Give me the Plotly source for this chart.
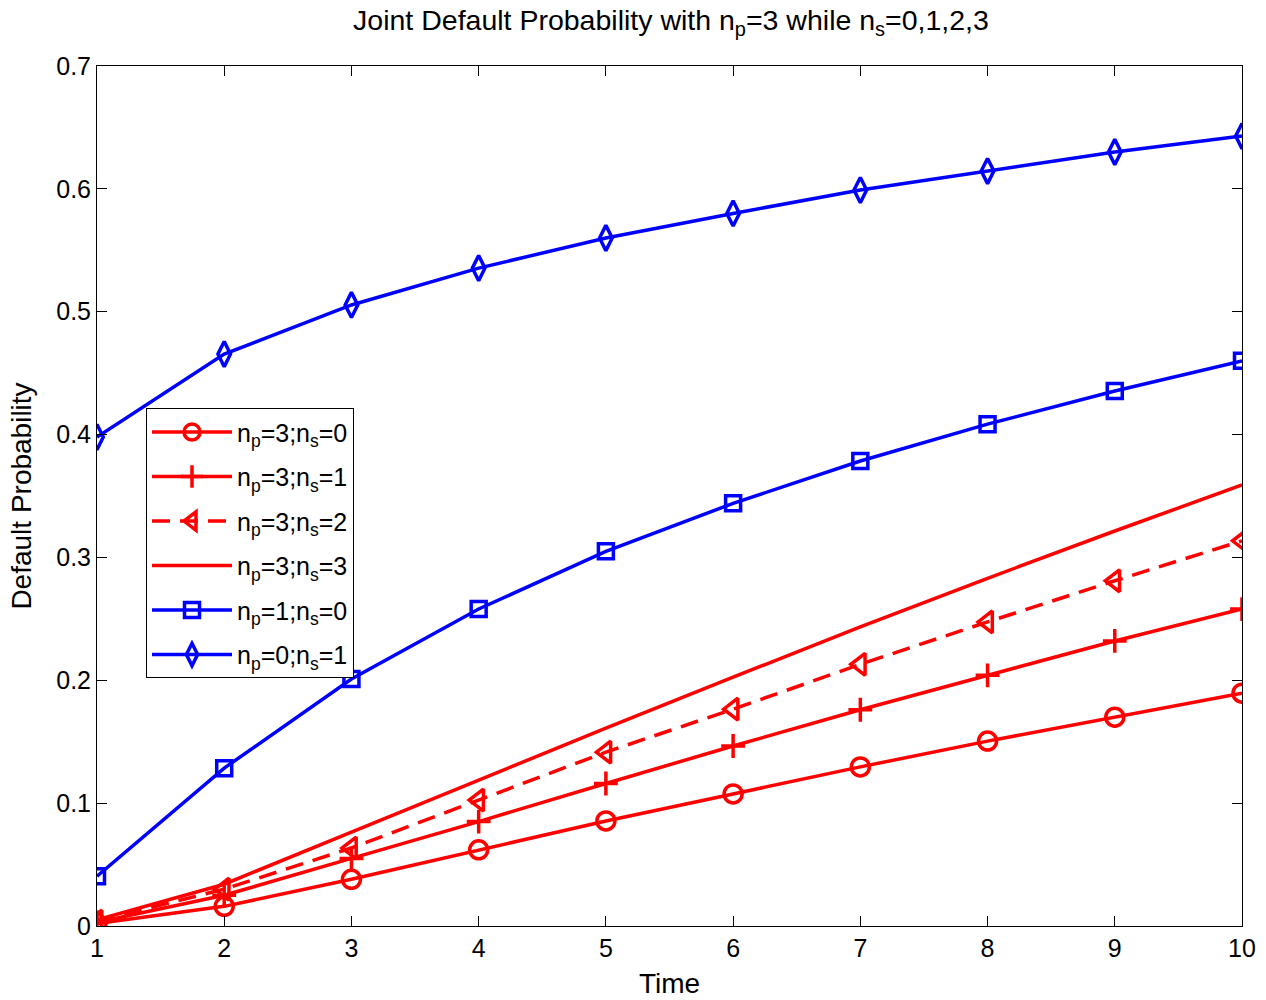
import plotly.graph_objects as go

time = [1, 2, 3, 4, 5, 6, 7, 8, 9, 10]

# joint default probabilities, n_p = 3 with n_s = 0..3
p3_s0 = [0.002, 0.016, 0.038, 0.062, 0.0855, 0.1075, 0.1295, 0.1505, 0.170, 0.1895]
p3_s1 = [0.003, 0.025, 0.055, 0.085, 0.116, 0.1465, 0.176, 0.204, 0.232, 0.258]
p3_s2 = [0.004, 0.030, 0.0635, 0.1025, 0.1415, 0.1765, 0.213, 0.2475, 0.281, 0.3135]
p3_s3 = [0.005, 0.034, 0.0765, 0.119, 0.161, 0.2025, 0.2435, 0.283, 0.3215, 0.359]

# reference curves
p1_s0 = [0.0405, 0.1285, 0.201, 0.258, 0.305, 0.344, 0.3785, 0.4085, 0.4355, 0.460]
p0_s1 = [0.398, 0.4655, 0.5055, 0.5355, 0.560, 0.580, 0.599, 0.6145, 0.630, 0.643]

labels = [
    "n<sub>p</sub>=3;n<sub>s</sub>=0",
    "n<sub>p</sub>=3;n<sub>s</sub>=1",
    "n<sub>p</sub>=3;n<sub>s</sub>=2",
    "n<sub>p</sub>=3;n<sub>s</sub>=3",
    "n<sub>p</sub>=1;n<sub>s</sub>=0",
    "n<sub>p</sub>=0;n<sub>s</sub>=1",
]

RED = "#ff0000"
BLUE = "#0000ff"
LW = 3.5

series = [
    (p3_s0, labels[0], RED, "solid", "circle-open", 18),
    (p3_s1, labels[1], RED, "solid", "cross-thin-open", 17),
    (p3_s2, labels[2], RED, "18px,10px", "triangle-left-open", 19),
    (p3_s3, labels[3], RED, "solid", None, 0),
    (p1_s0, labels[4], BLUE, "solid", "square-open", 15),
    (p0_s1, labels[5], BLUE, "solid", "diamond-tall-open", 18),
]

fig = go.Figure()
for i, (ys, name, color, dash, symbol, size) in enumerate(series):
    kw = dict(x=time, y=ys, name=name, legendgroup=f"g{i}",
              line=dict(color=color, width=LW, dash=dash))
    if symbol is None:
        fig.add_trace(go.Scatter(mode="lines", **kw))
    else:
        fig.add_trace(go.Scatter(
            mode="lines+markers",
            marker=dict(symbol=symbol, size=size, color=color,
                        line=dict(color=color, width=LW)),
            **kw,
        ))

FONT = "Liberation Sans, Arial, Helvetica, sans-serif"

fig.update_layout(
    width=1266, height=1000,
    margin=dict(l=97, r=24, t=66, b=74),
    paper_bgcolor="white", plot_bgcolor="white",
    font=dict(family=FONT, size=25, color="black"),
    title=dict(
        text="Joint Default Probability with n<sub>p</sub>=3 while n<sub>s</sub>=0,1,2,3",
        x=0.53, xanchor="center", y=0.99, yanchor="top",
        font=dict(size=28.5),
    ),
    xaxis=dict(
        range=[1, 10], tickvals=time, ticks="inside", ticklen=10,
        tickcolor="black", showline=True, linecolor="black", linewidth=1,
        mirror="ticks", showgrid=False, zeroline=False, automargin=False,
        title=dict(text="Time", standoff=12, font=dict(size=28)),
    ),
    yaxis=dict(
        range=[0, 0.7], dtick=0.1, ticks="inside", ticklen=10,
        tickcolor="black", showline=True, linecolor="black", linewidth=1,
        mirror="ticks", showgrid=False, zeroline=False, automargin=False,
        title=dict(text="Default Probability", standoff=16, font=dict(size=28)),
    ),
    legend=dict(
        x=0.0428, y=0.602, xanchor="left", yanchor="top",
        bgcolor="white", bordercolor="black", borderwidth=1,
        font=dict(size=25), itemwidth=80, tracegroupgap=9,
    ),
)

fig.write_html("out.html")
